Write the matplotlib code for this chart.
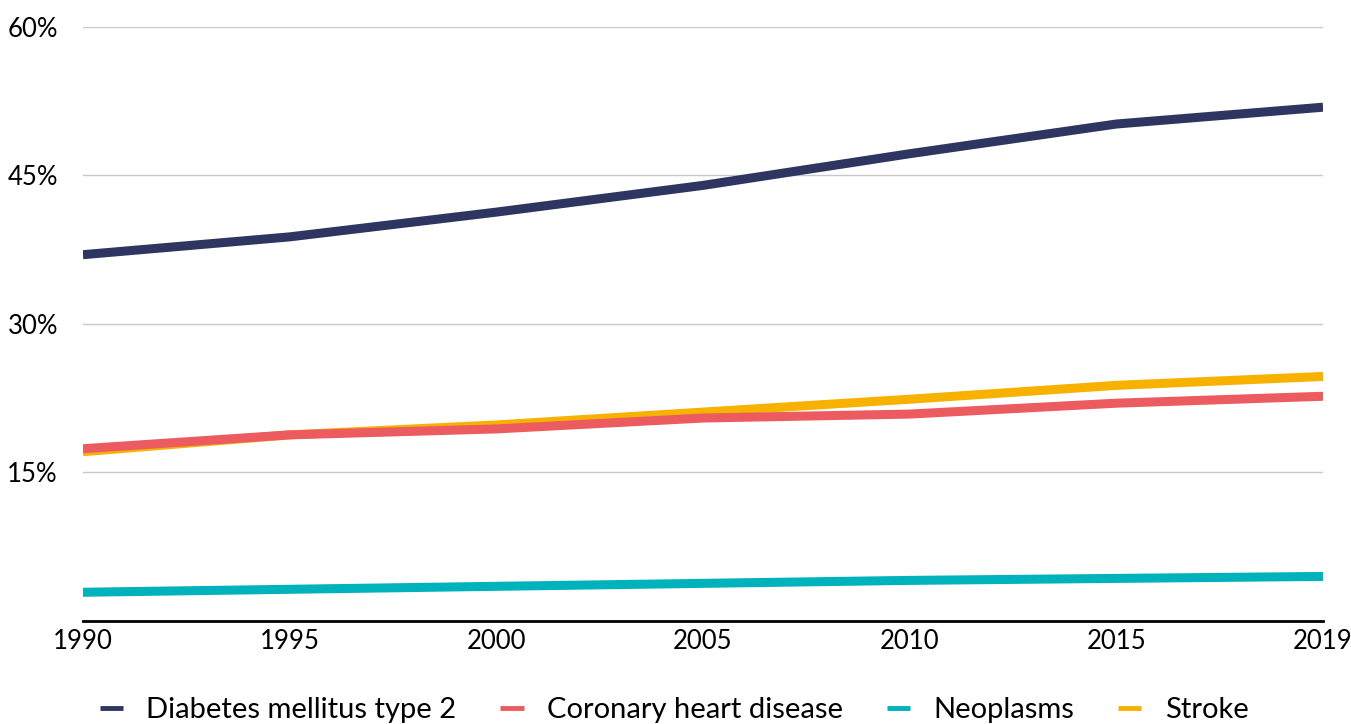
import matplotlib.pyplot as plt
from matplotlib.ticker import FuncFormatter

plt.rcParams['font.family'] = ['Lato', 'DejaVu Sans']

# Données
annees = ["1990", "1995", "2000", "2005", "2010", "2015", "2019"]
diabete = [37.0, 38.8, 41.3, 44.0, 47.2, 50.2, 51.9]
coronaire = [17.4, 18.8, 19.4, 20.5, 20.9, 22.0, 22.7]
neoplasmes = [2.9, 3.2, 3.5, 3.8, 4.1, 4.3, 4.5]
avc = [17.1, 18.8, 19.8, 21.1, 22.4, 23.8, 24.7]

series = [
    ("Diabetes mellitus type 2", diabete, "#2E3561", 3),
    ("Coronary heart disease", coronaire, "#EB5B5F", 4),
    ("Neoplasms", neoplasmes, "#00B2BB", 3),
    ("Stroke", avc, "#F7B200", 2),
]

fig = plt.figure(figsize=(13.51, 7.24), dpi=100)
ax = fig.add_axes([0.0614, 0.1423, 0.9179, 0.8204])

x = list(range(len(annees)))
for nom, vals, couleur, z in series:
    ax.plot(x, vals, color=couleur, lw=6.5, label=nom, zorder=z,
            solid_capstyle="butt")

ax.set_xlim(0, len(annees) - 1)
ax.set_ylim(0, 60)
ax.set_xticks(x)
ax.set_xticklabels(annees)
ax.set_yticks([15, 30, 45, 60])
ax.yaxis.set_major_formatter(FuncFormatter(lambda v, p: f"{v:.0f}%"))

ax.grid(axis="y", color="#C8C8C8", lw=1)
ax.set_axisbelow(True)
for s in ["top", "right", "left"]:
    ax.spines[s].set_visible(False)
ax.spines["bottom"].set_color("black")
ax.spines["bottom"].set_linewidth(2)
ax.spines["bottom"].set_zorder(5)

ax.tick_params(axis="y", length=0, pad=18, labelsize=18.5)
ax.tick_params(axis="x", length=0, pad=6, labelsize=18.5)

leg = fig.legend(loc="lower center", ncol=4, frameon=False, fontsize=21,
                 bbox_to_anchor=(0.499, -0.035), handlelength=0.8,
                 handletextpad=0.8, columnspacing=1.5)
for h in leg.get_lines():
    h.set_linewidth(3.5)

fig.savefig("out.png", dpi=100)
